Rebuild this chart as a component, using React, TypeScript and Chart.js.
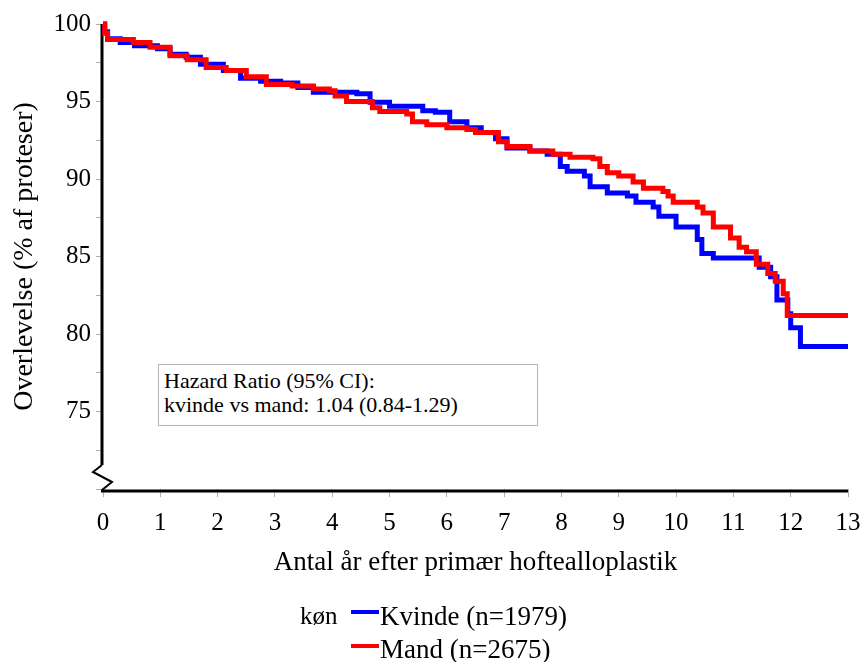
import React, { useEffect, useRef } from 'react';
import { Chart, registerables } from 'chart.js';

Chart.register(...registerables);

// Kaplan-Meier survival (%) — Kvinde
const kvindeTid = [0, 0.03, 0.08, 0.3, 0.55, 0.95, 1.17, 1.45, 1.7, 2.1, 2.4, 2.75, 3.1, 3.4, 3.67, 4.43, 4.66, 5.0, 5.58, 5.8, 6.05, 6.35, 6.6, 6.85, 7.05, 7.45, 7.75, 7.98, 8.1, 8.4, 8.5, 8.8, 9.15, 9.3, 9.6, 9.7, 10.0, 10.37, 10.45, 10.65, 11.45, 11.65, 11.76, 11.95, 12.0, 12.17, 13.0];
const kvindeOverlevelse = [100, 99.5, 99.05, 98.8, 98.6, 98.4, 98.05, 97.85, 97.4, 97.0, 96.5, 96.3, 96.2, 95.9, 95.6, 95.5, 94.95, 94.7, 94.4, 94.3, 93.7, 93.3, 93.0, 92.6, 92.0, 91.8, 91.6, 90.8, 90.5, 90.2, 89.5, 89.1, 88.9, 88.5, 88.2, 87.6, 86.9, 86.1, 85.2, 84.9, 84.3, 83.7, 82.2, 81.3, 80.4, 79.2, 79.2];

// Kaplan-Meier survival (%) — Mand
const mandTid = [0, 0.03, 0.08, 0.53, 0.82, 1.17, 1.47, 1.8, 2.15, 2.5, 2.85, 3.3, 3.67, 3.95, 4.05, 4.25, 4.7, 4.83, 5.3, 5.4, 5.65, 6.0, 6.35, 6.5, 6.9, 7.05, 7.45, 7.85, 8.15, 8.55, 8.67, 8.8, 9.0, 9.25, 9.43, 9.77, 9.86, 9.95, 10.37, 10.47, 10.65, 10.95, 11.1, 11.23, 11.4, 11.6, 11.73, 11.87, 11.94, 13.0];
const mandOverlevelse = [100, 99.4, 99.0, 98.8, 98.5, 97.95, 97.7, 97.2, 97.0, 96.6, 96.1, 96.0, 95.8, 95.7, 95.35, 95.0, 94.6, 94.35, 94.2, 93.7, 93.5, 93.3, 93.2, 93.0, 92.4, 92.1, 91.8, 91.6, 91.4, 91.3, 90.8, 90.4, 90.2, 89.8, 89.4, 89.2, 88.9, 88.5, 88.2, 87.8, 86.9, 86.2, 85.6, 85.3, 84.5, 83.9, 83.4, 82.6, 81.2, 81.2];

const yTickLabels = [75, 80, 85, 90, 95, 100];
const serieNavne = ['Kvinde (n=1979)', 'Mand (n=2675)'];
const legendTitel = 'køn';
const xTitel = 'Antal år efter primær hoftealloplastik';
const yTitel = 'Overlevelse (% af proteser)';
const hrLinjer = ['Hazard Ratio (95% CI):', 'kvinde vs mand: 1.04 (0.84-1.29)'];

const FONT = "'Liberation Serif', 'Times New Roman', serif";

export default function App() {
  const ref = useRef<HTMLCanvasElement>(null);

  useEffect(() => {
    document.body.style.margin = '0';
    const axisPlugin = {
      id: 'axisBreak',
      beforeDatasetsDraw(chart: any) {
        const { ctx } = chart;
        const xs = chart.scales.x;
        const ys = chart.scales.y;
        const x0 = xs.getPixelForValue(0) - 1;
        const x1 = xs.getPixelForValue(13);
        const yTop = ys.getPixelForValue(100);
        const yBot = ys.getPixelForValue(70);
        ctx.save();
        ctx.strokeStyle = '#000';
        ctx.lineCap = 'butt';
        // bottom axis
        ctx.lineWidth = 3;
        ctx.beginPath();
        ctx.moveTo(x0 - 1, yBot + 2);
        ctx.lineTo(x1, yBot + 2);
        ctx.stroke();
        // left axis with break
        ctx.beginPath();
        ctx.moveTo(x0, yTop);
        ctx.lineTo(x0, yBot - 24);
        ctx.stroke();
        ctx.lineWidth = 2;
        ctx.lineJoin = 'miter';
        ctx.beginPath();
        ctx.moveTo(x0, yBot - 24);
        ctx.lineTo(x0 - 9, yBot - 17);
        ctx.lineTo(x0 + 10, yBot - 7);
        ctx.lineTo(x0, yBot + 1);
        ctx.stroke();
        ctx.restore();
      },
    };

    const chart = new Chart(ref.current as HTMLCanvasElement, {
      type: 'line',
      data: {
        datasets: [
          {
            label: serieNavne[1],
            data: mandTid.map((t, i) => ({ x: t, y: mandOverlevelse[i] })),
            borderColor: '#FF0000',
            backgroundColor: '#FF0000',
            borderWidth: 5,
            pointRadius: 0,
            stepped: true,
            fill: false,
            order: 0,
            clip: false as any,
          },
          {
            label: serieNavne[0],
            data: kvindeTid.map((t, i) => ({ x: t, y: kvindeOverlevelse[i] })),
            borderColor: '#0000FF',
            backgroundColor: '#0000FF',
            borderWidth: 5,
            pointRadius: 0,
            stepped: true,
            fill: false,
            order: 1,
            clip: false as any,
          },
        ],
      },
      options: {
        responsive: false,
        animation: false,
        devicePixelRatio: 1,
        layout: { padding: { left: 0, right: 15, top: 24, bottom: 78 } },
        plugins: { legend: { display: false }, tooltip: { enabled: false } },
        scales: {
          x: {
            type: 'linear',
            min: 0,
            max: 13,
            border: { display: false },
            grid: { display: true, drawOnChartArea: false, drawTicks: true, tickLength: 8, color: '#b0b0b0', lineWidth: 1 },
            ticks: { stepSize: 1, autoSkip: false, maxRotation: 0, padding: 11, color: '#000', font: { family: FONT, size: 25 } },
            title: { display: true, text: xTitel, color: '#000', font: { family: FONT, size: 27 }, padding: { top: 0, bottom: 5 } },
            afterFit(scale: any) {
              scale.height = 95;
              scale.paddingLeft = 0;
              scale.paddingRight = 0;
            },
          },
          y: {
            type: 'linear',
            min: 70,
            max: 100,
            border: { display: false },
            grid: { display: true, drawOnChartArea: false, drawTicks: true, tickLength: 7, color: '#b0b0b0', lineWidth: 1 },
            ticks: {
              stepSize: 2.5,
              autoSkip: false,
              padding: 5,
              color: '#000',
              font: { family: FONT, size: 25 },
              callback: (v: any) => (yTickLabels.includes(Number(v)) ? String(v) : ''),
            },
            title: { display: true, text: yTitel, color: '#000', font: { family: FONT, size: 28 }, padding: { top: 8, bottom: 0 } },
            afterFit(scale: any) {
              scale.width = 103;
              scale.paddingTop = 0;
              scale.paddingBottom = 0;
            },
          },
        },
      },
      plugins: [axisPlugin],
    });
    return () => chart.destroy();
  }, []);

  const txt: React.CSSProperties = { position: 'absolute', fontFamily: FONT, color: '#000', whiteSpace: 'nowrap', lineHeight: '28px', fontSize: 27 };

  return (
    <div style={{ position: 'relative', width: 863, height: 662, background: '#fff', overflow: 'hidden' }}>
      <canvas ref={ref} width={863} height={662} style={{ display: 'block' }} />
      <div
        style={{
          position: 'absolute',
          left: 158,
          top: 364,
          width: 380,
          height: 62,
          boxSizing: 'border-box',
          border: '1px solid #b4b4b4',
          padding: '4px 0 0 5px',
          fontFamily: FONT,
          fontSize: 22,
          lineHeight: '24px',
          color: '#000',
          whiteSpace: 'nowrap',
          background: '#fff',
        }}
      >
        {hrLinjer.map((l) => (
          <div key={l}>{l}</div>
        ))}
      </div>
      <div style={{ ...txt, left: 300, top: 602, fontSize: 25 }}>{legendTitel}</div>
      <div style={{ position: 'absolute', left: 351, top: 610, width: 28, height: 4, background: '#0000FF' }} />
      <div style={{ ...txt, left: 380, top: 602 }}>{serieNavne[0]}</div>
      <div style={{ position: 'absolute', left: 351, top: 644, width: 28, height: 4, background: '#FF0000' }} />
      <div style={{ ...txt, left: 380, top: 635 }}>{serieNavne[1]}</div>
    </div>
  );
}
